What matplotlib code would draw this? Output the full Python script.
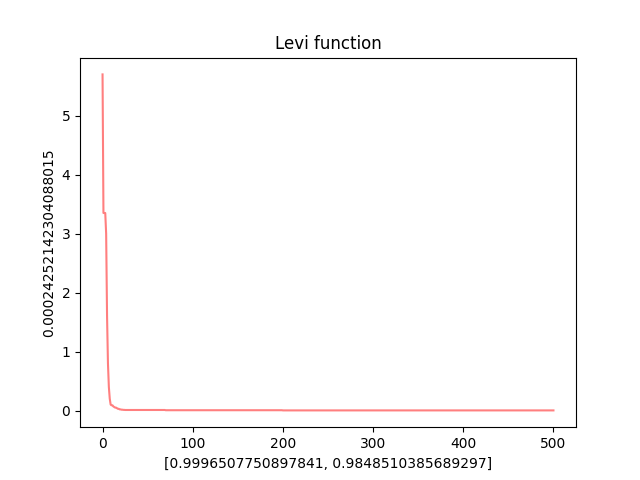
import matplotlib
matplotlib.use("Agg")
import matplotlib.pyplot as plt

# best fitness per generation
head = [5.70, 3.35, 3.35, 3.35, 3.00, 1.60, 0.80, 0.40, 0.20, 0.10,
        0.09, 0.09, 0.07, 0.06, 0.05, 0.05, 0.04, 0.03, 0.03, 0.02,
        0.02, 0.015, 0.015, 0.012, 0.012]
mid = [0.010] * 45
late = [0.006] * 130
tail = [0.003] * 301
fitness = head + mid + late + tail
generations = list(range(len(fitness)))

plt.figure(figsize=(6.4, 4.8), dpi=100)
plt.plot(generations, fitness, color="red", alpha=0.5)
plt.title("Levi function")
plt.xlabel("[0.9996507750897841, 0.9848510385689297]")
plt.ylabel("0.00024252142304088015")
plt.savefig("out.png")
